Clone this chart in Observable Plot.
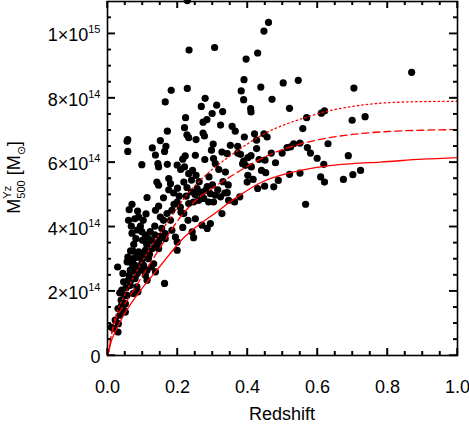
<!DOCTYPE html>
<html><head><meta charset="utf-8">
<script src="https://cdn.jsdelivr.net/npm/d3@7"></script>
<script src="https://cdn.jsdelivr.net/npm/@observablehq/plot@0.6"></script>
<style>
html,body{margin:0;padding:0;background:#fff;overflow:hidden;}
svg{display:block}
</style>
</head><body><div id="chart"></div>
<script>
// Cluster redshift and mass (mass in units of 1e14 Msun)
const clusterZ = [
0.228,0.233,0.306,0.182,0.228,0.165,0.279,0.268,0.312,0.329,0.299,0.223,0.284,0.323,
0.460,0.447,0.429,0.396,0.390,0.382,0.389,0.438,0.502,0.545,0.470,0.409,0.410,0.520,0.869,0.704,
0.611,0.620,0.569,0.699,0.736,0.558,0.356,0.365,0.391,0.420,0.447,0.456,0.351,0.372,0.426,0.426,
0.372,0.380,0.410,0.401,0.389,0.386,0.394,0.411,0.401,0.416,0.399,0.433,0.450,0.440,0.452,0.449,
0.429,0.468,0.480,0.499,0.513,0.523,0.532,0.550,0.571,0.580,0.599,0.618,0.630,0.520,0.550,0.609,
0.620,0.674,0.688,0.701,0.723,0.488,0.475,0.566,0.378,0.363,0.342,
0.220,0.273,0.171,0.227,0.232,0.273,0.277,0.253,0.058,0.056,0.058,0.151,0.167,0.163,0.128,0.137,
0.098,0.302,0.297,0.222,0.215,0.251,0.278,0.303,0.327,0.342,0.144,0.146,0.171,0.199,0.220,0.209,
0.232,0.243,0.253,0.308,0.318,0.337,0.175,0.180,0.141,0.146,0.189,0.218,0.227,0.240,0.256,0.265,
0.280,0.294,0.308,0.323,0.346,0.113,0.070,0.062,0.086,0.089,0.060,0.068,0.094,0.137,0.146,0.151,
0.160,0.170,0.184,0.199,0.208,0.218,0.232,0.246,0.260,0.275,0.289,0.303,0.327,0.251,0.215,0.184,
0.165,0.242,0.246,0.135,0.081,0.108,0.117,0.100,0.294,0.270,0.285,
0.146,0.165,0.194,0.199,0.074,0.089,0.108,0.127,0.146,0.199,0.058,0.074,0.098,0.117,0.029,0.079,
0.089,0.113,0.137,0.062,0.079,0.108,0.113,0.046,0.065,0.084,0.163,0.041,0.056,0.074,0.039,0.051,
0.030,0.046,0.051,0.022,0.031,0.017,0.030,0.098,0.065,0.056,0.011,
0.035,0.040,0.048,0.053,0.035,0.060,0.044,0.068,0.072,0.085,0.095,0.070,0.082,0.093,0.066,0.103,
0.087,0.105,0.120,0.128,0.135,0.122,0.150,0.155,0.140,0.112,0.132,0.125,0.075,0.070,0.085,0.078,
0.102,0.110,0.098,0.190,0.205,0.225,0.250,0.270,0.285,0.300,0.315,0.335,0.200,0.160,0.175,0.240,
0.262,0.290,0.210,0.230,0.180,0.330,0.345
];
const clusterM = [
11.03,9.49,9.57,8.24,8.30,7.88,7.99,7.74,7.78,7.58,7.52,7.39,7.33,7.16,
10.35,10.08,9.40,9.21,8.57,8.22,7.95,8.34,8.47,8.55,7.96,7.67,7.57,7.68,8.80,8.31,
7.53,7.60,7.39,7.31,7.42,7.05,7.12,6.97,6.79,6.89,6.89,6.79,6.53,6.50,6.69,6.43,
6.29,6.25,6.21,6.15,6.04,5.96,5.91,5.86,5.60,5.47,5.39,6.09,6.07,5.75,5.68,5.26,
5.19,6.29,5.99,6.29,6.46,6.48,6.58,6.60,6.46,6.29,6.13,5.94,6.58,5.63,5.67,5.55,
5.39,5.47,6.21,5.62,5.75,5.44,5.24,4.70,4.93,4.77,5.06,
7.08,7.25,6.97,6.86,6.77,6.91,6.82,6.71,6.71,6.66,6.34,6.68,6.50,6.34,6.45,6.23,
5.93,6.57,6.38,6.20,6.10,6.22,6.09,6.12,6.32,6.27,5.96,5.86,5.94,5.92,5.86,5.78,
5.65,5.75,5.60,5.96,5.78,5.70,5.50,5.34,5.39,5.29,5.05,5.39,5.22,5.08,5.19,5.08,
5.13,5.03,4.98,4.93,4.82,4.91,4.70,4.53,4.49,4.30,4.20,4.02,4.02,4.51,4.64,4.30,
4.20,4.41,4.51,4.77,4.61,4.41,4.72,4.77,4.82,4.88,4.77,4.77,4.41,4.25,3.98,3.89,
3.79,3.84,3.66,4.02,3.63,3.74,3.63,3.58,4.10,4.05,3.95,
3.53,3.63,3.68,3.53,3.24,3.22,3.27,3.32,3.32,3.27,3.06,3.01,2.99,3.01,2.75,2.80,
2.70,2.65,2.60,2.49,2.39,2.49,2.34,2.29,2.18,2.13,2.24,2.03,1.87,1.93,1.72,1.61,
1.46,1.41,1.35,1.10,0.99,0.84,0.73,2.86,2.65,2.91,0.88,
1.25,1.55,1.85,2.10,1.95,2.35,2.55,2.35,2.62,2.55,2.65,2.85,3.05,3.15,3.25,2.80,
1.98,3.10,3.15,3.55,3.75,3.85,3.70,3.95,3.40,3.45,2.85,2.75,3.45,3.80,3.90,4.25,
4.20,4.40,3.85,4.70,4.95,4.95,5.00,4.95,5.25,5.30,5.15,5.05,5.20,4.90,5.15,5.45,
5.40,5.55,4.45,4.20,4.20,5.40,5.30
];

// Completeness / limit curves (mass in 1e14 Msun)
const solidZ  = [0, 0.003, 0.010, 0.022, 0.041, 0.070, 0.098, 0.137, 0.175, 0.200, 0.220, 0.240, 0.280, 0.320, 0.350, 0.385, 0.430, 0.530, 0.620, 0.700, 0.780, 0.900, 1.000];
const solidM  = [0, 0.10, 0.42, 0.73, 1.15, 1.66, 2.08, 2.60, 3.11, 3.45, 3.68, 3.88, 4.21, 4.52, 4.77, 5.03, 5.33, 5.70, 5.88, 5.96, 6.01, 6.10, 6.15];
const dashedZ = [0, 0.004, 0.010, 0.020, 0.050, 0.090, 0.130, 0.165, 0.200, 0.250, 0.300, 0.350, 0.400, 0.450, 0.500, 0.550, 0.600, 0.700, 0.800, 0.900, 1.000];
const dashedM = [0, 0.15, 0.55, 1.00, 1.60, 2.30, 3.00, 3.60, 4.18, 4.80, 5.20, 5.55, 5.88, 6.17, 6.40, 6.57, 6.70, 6.87, 6.96, 7.00, 7.02];
const dottedZ = [0, 0.004, 0.010, 0.020, 0.050, 0.080, 0.120, 0.175, 0.220, 0.270, 0.320, 0.350, 0.450, 0.570, 0.640, 0.700, 0.780, 0.900, 1.000];
const dottedM = [0, 0.18, 0.60, 1.10, 1.90, 2.55, 3.30, 4.20, 4.90, 5.50, 5.96, 6.20, 6.90, 7.41, 7.62, 7.74, 7.84, 7.89, 7.90];

// Ticks and labels
const xTicks = [0, 0.2, 0.4, 0.6, 0.8, 1.0];
const xTickLabels = ["0.0", "0.2", "0.4", "0.6", "0.8", "1.0"];
const xMinorTicks = [0.05,0.1,0.15,0.25,0.3,0.35,0.45,0.5,0.55,0.65,0.7,0.75,0.85,0.9,0.95];
const yTicks = [0, 2, 4, 6, 8, 10];
const yTickLabels = ["0", "2×10^14", "4×10^14", "6×10^14", "8×10^14", "1×10^15"];
const yMinorTicks = [0.5,1,1.5,2.5,3,3.5,4.5,5,5.5,6.5,7,7.5,8.5,9,9.5,10.5];
const xLabel = "Redshift";

const clusters = clusterZ.map((z, i) => ({z, m: clusterM[i]}));
const solid = solidZ.map((z, i) => ({z, m: solidM[i]}));
const dashed = dashedZ.map((z, i) => ({z, m: dashedM[i]}));
const dotted = dottedZ.map((z, i) => ({z, m: dottedM[i]}));

const FONT = "'Liberation Sans', Arial, Helvetica, sans-serif";
const W = 469, H = 425, ML = 107, MR = 12, MT = 1, MB = 70;
const PW = W - ML - MR, PH = H - MT - MB;
const X0 = 0, X1 = 1, Y0 = 0, Y1 = 11;
const tr = {stroke: "#000", strokeWidth: 1.4};

const chart = Plot.plot({
  width: W,
  height: H,
  marginLeft: ML,
  marginRight: MR,
  marginTop: MT,
  marginBottom: MB,
  x: {domain: [X0, X1], axis: null},
  y: {domain: [Y0, Y1], axis: null},
  marks: [
    Plot.dot(clusters, {x: "z", y: "m", r: 3.6, fill: "black"}),
    Plot.line(solid, {x: "z", y: "m", stroke: "#ff0000", strokeWidth: 1.3, curve: "monotone-x"}),
    Plot.line(dashed, {x: "z", y: "m", stroke: "#ff0000", strokeWidth: 1.3, strokeDasharray: "7,4", curve: "monotone-x"}),
    Plot.line(dotted, {x: "z", y: "m", stroke: "#ff0000", strokeWidth: 1.3, strokeDasharray: "1.5,3", curve: "monotone-x"}),
    // inward ticks on all four sides
    Plot.ruleX(xTicks, {x: d => d, insetTop: PH - 7, ...tr}),
    Plot.ruleX(xMinorTicks, {x: d => d, insetTop: PH - 4, ...tr}),
    Plot.ruleX(xTicks, {x: d => d, insetBottom: PH - 7, ...tr}),
    Plot.ruleX(xMinorTicks, {x: d => d, insetBottom: PH - 4, ...tr}),
    Plot.ruleY(yTicks, {y: d => d, insetRight: PW - 8, ...tr}),
    Plot.ruleY(yMinorTicks, {y: d => d, insetRight: PW - 4, ...tr}),
    Plot.ruleY(yTicks, {y: d => d, insetLeft: PW - 8, ...tr}),
    Plot.ruleY(yMinorTicks, {y: d => d, insetLeft: PW - 4, ...tr}),
    // tick labels
    Plot.text(xTicks, {x: d => d, frameAnchor: "bottom", dy: 25, lineAnchor: "top", fontSize: 18,
      fontFamily: FONT, fill: "black", text: d => xTickLabels[xTicks.indexOf(d)]}),
    Plot.text(yTicks, {y: d => d, frameAnchor: "left", dx: -7, dy: 2, textAnchor: "end", fontSize: 18,
      fontFamily: FONT, fill: "black", text: d => yTickLabels[yTicks.indexOf(d)]}),
    Plot.frame({stroke: "black", strokeWidth: 1.6})
  ]
});

document.getElementById("chart").appendChild(chart);
const svg = d3.select(chart);

// Overlay of the inward tick marks, positioned with the chart's scales
let fx, fy;
try {
  const sx = chart.scale("x"), sy = chart.scale("y");
  fx = v => sx.apply(v); fy = v => sy.apply(v);
  if (!isFinite(fx(0.5)) || !isFinite(fy(5))) throw 0;
} catch (e) {
  const lx = d3.scaleLinear([X0, X1], [ML, W - MR]);
  const ly = d3.scaleLinear([Y0, Y1], [H - MB, MT]);
  fx = lx; fy = ly;
}
const tickLayer = svg.append("g").attr("stroke", "#000").attr("stroke-width", 1.4);
const addX = (vals, len) => vals.forEach(v => {
  const px = fx(v), yb = fy(Y0), yt = fy(Y1);
  tickLayer.append("line").attr("x1", px).attr("x2", px).attr("y1", yb).attr("y2", yb - len);
  tickLayer.append("line").attr("x1", px).attr("x2", px).attr("y1", yt).attr("y2", yt + len);
});
const addY = (vals, len) => vals.forEach(v => {
  const py = fy(v), xl = fx(X0), xr = fx(X1);
  tickLayer.append("line").attr("y1", py).attr("y2", py).attr("x1", xl).attr("x2", xl + len);
  tickLayer.append("line").attr("y1", py).attr("y2", py).attr("x1", xr).attr("x2", xr - len);
});
addX(xTicks, 7); addX(xMinorTicks, 4);
addY(yTicks, 8); addY(yMinorTicks, 4);

// Turn "a^b" tick labels into real superscripts
svg.selectAll("text").each(function() {
  const t = d3.select(this);
  const s = t.text();
  if (s.includes("^")) {
    const [base, sup] = s.split("^");
    t.text(null);
    t.append("tspan").text(base);
    t.append("tspan").attr("font-size", 11).attr("dy", -8).text(sup);
  }
});

// Axis titles
svg.append("text")
  .attr("x", 282).attr("y", 420)
  .attr("text-anchor", "middle")
  .attr("font-family", FONT).attr("font-size", 18).attr("fill", "black")
  .text(xLabel);

const yl = svg.append("text")
  .attr("transform", "translate(20,177.5) rotate(-90)")
  .attr("text-anchor", "middle")
  .attr("font-family", FONT).attr("font-size", 18).attr("fill", "black");
yl.append("tspan").text("M");
yl.append("tspan").attr("font-size", 11).attr("dy", 5).text("500");
yl.append("tspan").attr("font-size", 11).attr("dx", -18.3).attr("dy", -14).text("Yz");
yl.append("tspan").attr("dx", 5.5).attr("dy", 9).text("\u00a0[M");
yl.append("tspan").attr("font-size", 11).attr("dy", 5).text("⊙");
yl.append("tspan").attr("dy", -5).text("]");
</script>
</body></html>
